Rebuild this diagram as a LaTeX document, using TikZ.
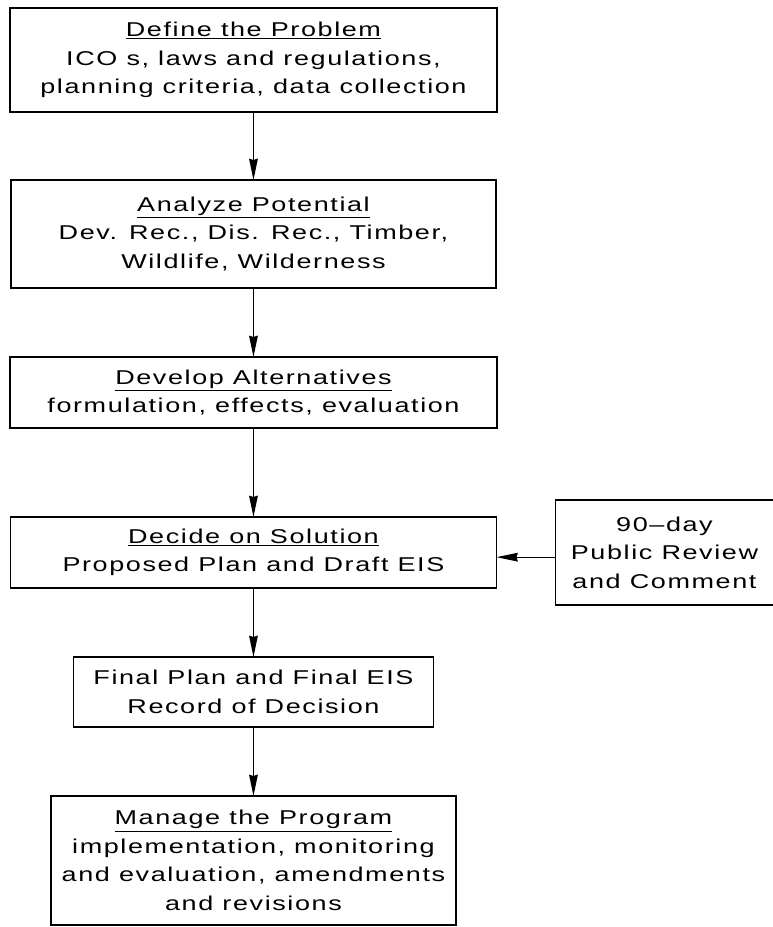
\documentclass[tikz,border=0pt]{standalone}
\usepackage{fontspec}
\usepackage{tikz}
\usetikzlibrary{arrows.meta, positioning}
\newfontfamily\cadfont[FakeStretch=1.35,LetterSpace=8]{Liberation Sans}

\begin{document}
\begin{tikzpicture}[
    every node/.style={rectangle, draw, line width=1.3pt, inner sep=0pt, outer sep=0pt, align=center,
        font={\cadfont\fontsize{15pt}{21.4pt}\selectfont}},
    >={Stealth[length=16pt, width=6.5pt, inset=1pt]}
]
\useasboundingbox (0,0) rectangle (579.75pt,-695.25pt);

% Nodes
\node (define) [minimum width=365.25pt, minimum height=78pt] at (190.1pt,-45pt)
    {\underline{Define the Problem}\\ICO s, laws and regulations,\\planning criteria, data collection};
\node (analyze) [below=51pt of define, minimum width=363.75pt, minimum height=81pt]
    {\underline{Analyze Potential}\\Dev. Rec., Dis. Rec., Timber,\\Wildlife, Wilderness};
\node (develop) [below=51.75pt of analyze, minimum width=365.25pt, minimum height=53.25pt]
    {\underline{Develop Alternatives}\\formulation, effects, evaluation};
\node (decide) [below=66.75pt of develop, minimum width=364.5pt, minimum height=53.25pt]
    {\underline{Decide on Solution}\\Proposed Plan and Draft EIS};
\node (review) [right=44.25pt of decide, minimum width=163.5pt, minimum height=78.75pt]
    {90\textendash day\\Public Review\\and Comment};
\node (final) [below=51.75pt of decide, minimum width=270pt, minimum height=52.5pt]
    {Final Plan and Final EIS\\Record of Decision};
\node (manage) [below=51.75pt of final, minimum width=303.75pt, minimum height=96.75pt]
    {\underline{Manage the Program}\\implementation, monitoring\\and evaluation, amendments\\and revisions};

% Arrows
\draw [->, line width=0.9pt] (define) -- (analyze);
\draw [->, line width=0.9pt] (analyze) -- (develop);
\draw [->, line width=0.9pt] (develop) -- (decide);
\draw [->, line width=0.9pt] ([yshift=-3.5pt]review.west) -- ([yshift=-3.5pt]decide.east);
\draw [->, line width=0.9pt] (decide) -- (final);
\draw [->, line width=0.9pt] (final) -- (manage);

\end{tikzpicture}
\end{document}
